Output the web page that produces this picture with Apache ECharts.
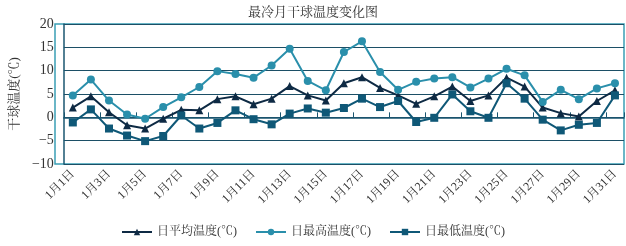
<!DOCTYPE html>
<html><head><meta charset="utf-8">
<script src="https://cdn.jsdelivr.net/npm/echarts@6/dist/echarts.min.js"></script>
<style>html,body{margin:0;padding:0;background:#fff}#c{width:626px;height:246px}</style>
</head><body><div id="c"></div>
<script>
const categories = Array.from({length:31},(_,i)=>'1月'+(i+1)+'日');
const avgTemp = [2.1,4.5,1.1,-1.7,-2.4,-0.3,1.6,1.5,3.9,4.5,2.8,4.0,6.7,4.7,3.6,7.3,8.6,6.3,4.7,2.9,4.5,6.6,3.5,4.7,8.5,6.6,2.1,0.9,0.2,3.5,5.8];
const maxTemp = [4.7,8.1,3.6,0.6,-0.3,2.2,4.3,6.5,9.9,9.3,8.5,11.1,14.7,7.8,5.8,14.0,16.3,9.7,5.9,7.6,8.3,8.6,6.4,8.3,10.4,9.0,3.3,5.9,3.9,6.2,7.3];
const minTemp = [-1.1,1.7,-2.4,-3.9,-5.1,-4.0,0.4,-2.4,-1.2,1.5,-0.4,-1.5,0.8,1.9,1.0,2.0,4.0,2.2,3.5,-1.0,-0.1,4.9,1.3,-0.1,7.3,4.0,-0.5,-2.8,-1.6,-1.2,4.7];
const seriesNames = ['日平均温度(℃)','日最高温度(℃)','日最低温度(℃)'];
const yTicks = {min:-10,max:20,interval:5};

const FONT = 'Times New Roman, Liberation Serif, Noto Serif CJK SC, Noto Sans CJK SC, serif';
const chart = echarts.init(document.getElementById('c'));
const colors = ['#0e2a44','#2a8fab','#0f5877'];
const symbols = ['triangle','circle','rect'];
const dataSets = [avgTemp,maxTemp,minTemp];
chart.setOption({
  animation:false,
  title:{text:'最冷月干球温度变化图',left:'center',top:1,textStyle:{fontFamily:FONT,fontSize:13,fontWeight:'normal',color:'#333'}},
  grid:{left:55,right:2,top:24,bottom:82},
  legend:{bottom:3,left:'center',itemWidth:30,itemHeight:8,itemGap:18,
    textStyle:{fontFamily:FONT,fontSize:12,color:'#333'},
    data:seriesNames},
  xAxis:{type:'category',data:categories,boundaryGap:true,
    axisLine:{lineStyle:{color:'#1a5670',width:1.5}},
    axisTick:{show:true,inside:true,interval:1,length:5,lineStyle:{color:'#1a5670'}},
    axisLabel:{interval:1,rotate:45,fontFamily:FONT,fontSize:12,color:'#333',margin:8},
    splitLine:{show:false}},
  yAxis:{type:'value',min:yTicks.min,max:yTicks.max,interval:yTicks.interval,
    name:'干球温度(℃)',nameLocation:'middle',nameGap:38,nameRotate:90,
    nameTextStyle:{fontFamily:FONT,fontSize:13,color:'#333'},
    axisLine:{show:true,lineStyle:{color:'#1a5670',width:1.5}},
    axisTick:{show:false},
    axisLabel:{fontFamily:FONT,fontSize:14,color:'#333',margin:10,formatter:v=>String(v).replace('-','−')},
    splitLine:{show:true,lineStyle:{color:'#1c4f66',width:1.2}}},
  graphic:[{type:'rect',shape:{x:55,y:24,width:569,height:140},style:{fill:'none',stroke:'#3a9fb5',lineWidth:1.5},z:-1}],
  series:dataSets.map((d,i)=>({name:seriesNames[i],type:'line',data:d,symbol:symbols[i],
    symbolSize:8,showSymbol:true,
    lineStyle:{color:colors[i],width:2},itemStyle:{color:colors[i]}}))
});
</script></body></html>
